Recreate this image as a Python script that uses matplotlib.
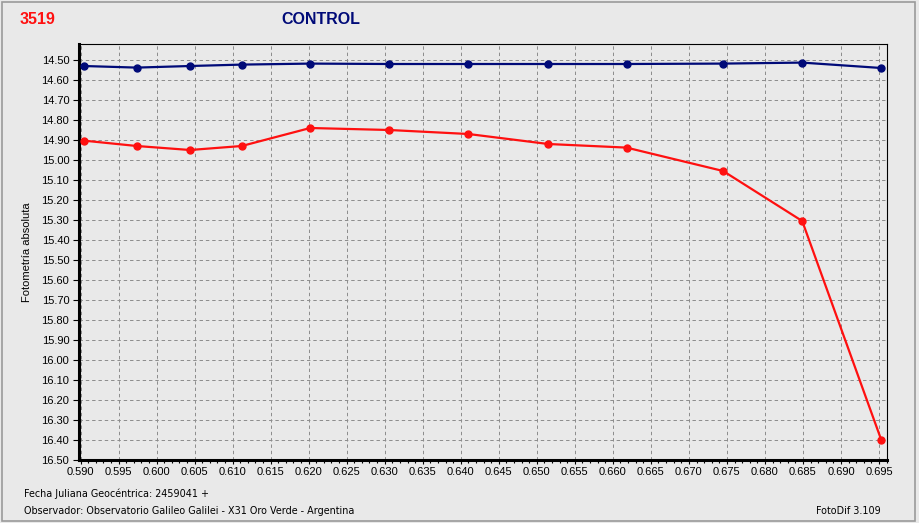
import matplotlib
matplotlib.use("Agg")
import matplotlib.pyplot as plt
from matplotlib.ticker import MultipleLocator, FormatStrFormatter
from matplotlib.patches import Rectangle

# fase (fecha juliana - 2459041)
jd = [0.5904, 0.5974, 0.6044, 0.6112, 0.6202, 0.6306, 0.6410, 0.6515,
      0.6618, 0.6745, 0.6849, 0.6953]
control = [14.53, 14.538, 14.53, 14.523, 14.518, 14.52, 14.52, 14.52,
           14.52, 14.518, 14.513, 14.54]
objeto = [14.903, 14.93, 14.95, 14.93, 14.84, 14.85, 14.87, 14.92,
          14.938, 15.055, 15.305, 16.40]

bg = "#e9e9e9"
navy = "#000a78"
red = "#ff1010"

fig = plt.figure(figsize=(9.19, 5.23), dpi=100)
fig.patch.set_facecolor(bg)
# marco exterior
fig.patches.append(Rectangle((0.002, 0.003), 0.994, 0.994, transform=fig.transFigure,
                             fill=False, edgecolor="#9a9a9a", linewidth=1.2))

ax = fig.add_axes([79 / 919, 63 / 523, 808 / 919, 416 / 523])
ax.set_facecolor(bg)

ax.plot(jd, control, color=navy, linewidth=1.6, marker="o", markersize=5, zorder=3)
ax.plot(jd, objeto, color=red, linewidth=1.6, marker="o", markersize=5, zorder=3)

ax.set_xlim(0.5898, 0.69605)
ax.set_ylim(16.50, 14.42)
ax.xaxis.set_major_locator(MultipleLocator(0.005))
ax.xaxis.set_minor_locator(MultipleLocator(0.001))
ax.xaxis.set_major_formatter(FormatStrFormatter("%.3f"))
ax.yaxis.set_major_locator(MultipleLocator(0.1))
ax.yaxis.set_major_formatter(FormatStrFormatter("%.2f"))

ax.grid(True, which="major", color="#8c8c8c", linestyle=(0, (3.5, 3)), linewidth=0.7)
ax.tick_params(axis="both", which="major", length=3, width=0.8, labelsize=8,
               colors="black", pad=2)
ax.tick_params(axis="y", which="major", pad=3, length=4)
ax.tick_params(axis="x", which="minor", length=2, width=0.8)
for lab in ax.get_xticklabels() + ax.get_yticklabels():
    lab.set_fontfamily("Liberation Sans")

for side in ["top", "right"]:
    ax.spines[side].set_linewidth(0.8)
ax.spines["left"].set_linewidth(2.2)
ax.spines["bottom"].set_linewidth(2.2)

ax.set_ylabel("Fotometría absoluta", fontsize=8, family="Liberation Sans", labelpad=7)

fig.text(20 / 919, 1 - 20 / 523, "3519", color=red, fontsize=11.5, fontweight="bold",
         family="Liberation Sans", va="center", ha="left")
fig.text(281 / 919, 1 - 20 / 523, "CONTROL", color=navy, fontsize=11.5, fontweight="bold",
         family="Liberation Sans", va="center", ha="left")
fig.text(24 / 919, 1 - 494 / 523, "Fecha Juliana Geocéntrica: 2459041 +", fontsize=6.9,
         family="DejaVu Sans", va="center", ha="left")
fig.text(24 / 919, 1 - 511 / 523,
         "Observador: Observatorio Galileo Galilei - X31 Oro Verde - Argentina",
         fontsize=6.9, family="DejaVu Sans", va="center", ha="left")
fig.text(816 / 919, 1 - 511 / 523, "FotoDif 3.109", fontsize=6.9,
         family="DejaVu Sans", va="center", ha="left")

fig.savefig("out.png", dpi=100, facecolor=bg)
